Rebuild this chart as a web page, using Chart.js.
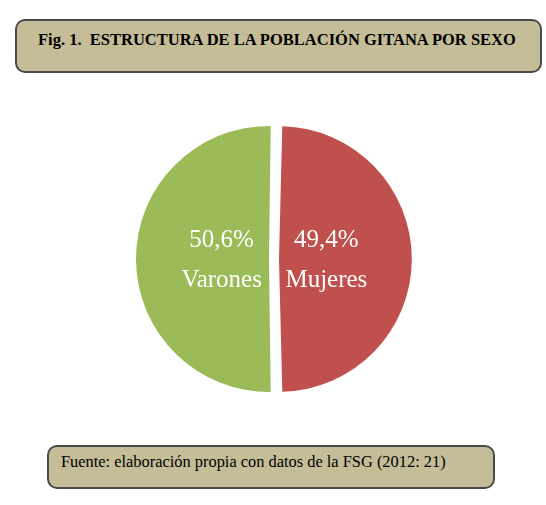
<!DOCTYPE html>
<html>
<head>
<meta charset="utf-8">
<script src="https://cdn.jsdelivr.net/npm/chart.js@4.4.0/dist/chart.umd.min.js"></script>
<style>
  html, body { margin: 0; padding: 0; background: #ffffff; }
  body { width: 546px; height: 505px; position: relative; overflow: hidden; font-family: "Liberation Serif", "Times New Roman", serif; }
  .box { position: absolute; box-sizing: border-box; background: #C4BD97; border: 2px solid #4a4a4a; border-radius: 10px; color: #000; white-space: pre; }
  #title { left: 15px; top: 19px; width: 527px; height: 54px; font-weight: bold; font-size: 16.5px; }
  #title span { position: absolute; left: 21px; top: 9px; }
  #source { left: 47px; top: 445px; width: 448px; height: 44px; font-size: 16.4px; }
  #source span { position: absolute; left: 12px; top: 5px; }
  #wrap { position: absolute; left: 124px; top: 109px; width: 300px; height: 300px; }
</style>
</head>
<body>
<div class="box" id="title"><span>Fig. 1.  ESTRUCTURA DE LA POBLACIÓN GITANA POR SEXO</span></div>
<div id="wrap"><canvas id="c" width="300" height="300"></canvas></div>
<div class="box" id="source"><span>Fuente: elaboración propia con datos de la FSG (2012: 21)</span></div>
<script>
const categories = ["Mujeres", "Varones"];
const values = [49.4, 50.6];
const valueLabels = ["49,4%", "50,6%"];
const colors = ["#C0504D", "#9BBB59"];

const sliceLabels = {
  id: 'sliceLabels',
  afterDatasetsDraw(chart) {
    const ctx = chart.ctx;
    const meta = chart.getDatasetMeta(0);
    ctx.save();
    ctx.fillStyle = '#ffffff';
    ctx.font = '25px "Liberation Serif", "Times New Roman", serif';
    ctx.textAlign = 'center';
    ctx.textBaseline = 'middle';
    meta.data.forEach((arc, i) => {
      const p = arc.getProps(['x', 'y', 'startAngle', 'endAngle', 'outerRadius']);
      const half = (p.startAngle + p.endAngle) / 2;
      const off = (arc.options.offset || 0) / 4;
      const r = off + p.outerRadius * 0.37;
      const cx = p.x + Math.cos(half) * r;
      const cy = p.y + Math.sin(half) * r;
      ctx.fillText(valueLabels[i], cx, cy - 19);
      ctx.fillText(categories[i], cx, cy + 21);
    });
    ctx.restore();
  }
};

new Chart(document.getElementById('c'), {
  type: 'pie',
  data: {
    labels: categories,
    datasets: [{
      data: values,
      backgroundColor: colors,
      borderWidth: 0,
      offset: 20,
      hoverOffset: 20
    }]
  },
  options: {
    responsive: false,
    animation: false,
    radius: 128,
    rotation: 1.08,
    layout: { padding: 0 },
    plugins: { legend: { display: false }, tooltip: { enabled: false } },
    events: []
  },
  plugins: [sliceLabels]
});
</script>
</body>
</html>
